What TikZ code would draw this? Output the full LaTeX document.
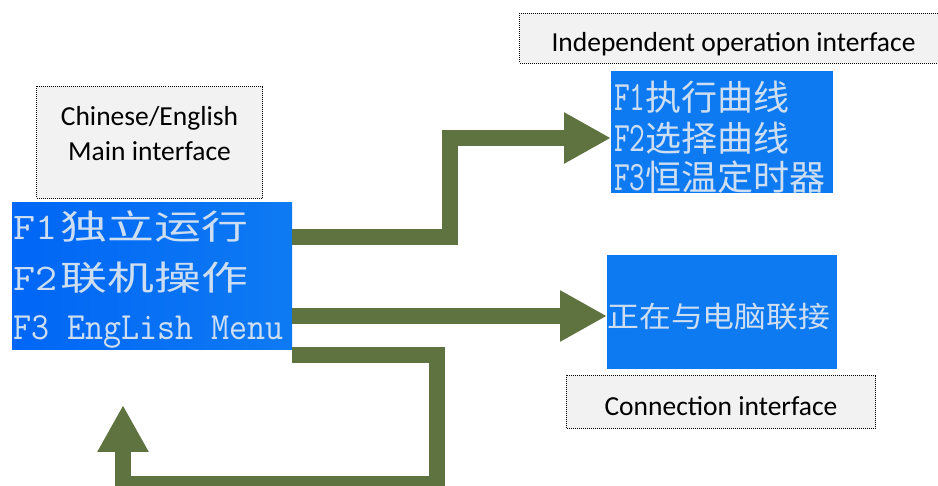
\documentclass[tikz,border=0pt]{standalone}
\usepackage{fontspec}
\usepackage{graphicx}
\setmainfont{Carlito}
\newfontfamily\lcdcjk{Noto Sans CJK SC}
\usetikzlibrary{arrows.meta}
\definecolor{lcdblue}{RGB}{14,122,242}
\definecolor{lcdleft}{RGB}{0,102,246}
\definecolor{lcdtext}{RGB}{205,222,242}
\definecolor{pipegreen}{RGB}{94,115,64}
\definecolor{tagfill}{RGB}{242,242,242}
\newcommand\fkey[3]{\scalebox{#1}[1]{\fontsize{#2}{#2}\ttfamily\selectfont #3}}
\newcommand\hanzi[3]{\scalebox{#1}[1]{\fontsize{#2}{#2}\lcdcjk\selectfont #3}}

\begin{document}
\begin{tikzpicture}[x=1pt,y=-1pt,
  tag/.style={draw,densely dotted,line width=1pt,fill=tagfill,anchor=north west,align=center,font=\fontsize{27.5}{35}\selectfont},
  screen/.style={fill=lcdblue,anchor=north west,inner sep=0pt},
  lcdrow/.style={anchor=base west,inner sep=0pt,text=lcdtext},
  pipe/.style={draw=pipegreen,line width=16pt,-{Triangle[length=47pt,width=48pt]}}]
\useasboundingbox (0,0) rectangle (938,486);

\node[tag,minimum width=226pt,minimum height=112pt,text depth=19pt] (mainlbl) at (36,86) {Chinese/English\\Main interface};
\node[tag,minimum width=428pt,minimum height=50pt,text height=30pt] (indlbl) at (519,13) {Independent operation interface};
\node[tag,minimum width=309pt,minimum height=53pt,text height=28pt] (conlbl) at (566,375) {Connection interface};

\node[screen,left color=lcdleft,right color=lcdblue,minimum width=280pt,minimum height=147pt] (mainscr) at (12,202) {};
\node[screen,minimum width=222pt,minimum height=122pt] (indscr) at (611,71) {};
\node[screen,minimum width=230pt,minimum height=114pt] (conscr) at (607,255) {};

\node[lcdrow] (main1) at (13,240) {\fkey{1.14}{37.6}{F1}\kern3pt\hanzi{1.38}{34}{独立运行}};
\node[lcdrow] (main2) at (13,291) {\fkey{1.14}{37.6}{F2}\kern3pt\hanzi{1.38}{34}{联机操作}};
\node[lcdrow] (main3) at (13,340) {\fkey{.91}{38.5}{F3 EngLish Menu}};
\node[lcdrow] (ind1) at (614,111) {\fkey{.73}{42}{F1}\hanzi{1.03}{35}{执行曲线}};
\node[lcdrow] (ind2) at (614,152) {\fkey{.73}{42}{F2}\hanzi{1.03}{35}{选择曲线}};
\node[lcdrow] (ind3) at (614,191) {\fkey{.73}{42}{F3}\hanzi{1.03}{35}{恒温定时器}};
\node[lcdrow] (con1) at (607,328) {\hanzi{1.1}{29}{正在与电脑联接}};

\coordinate (back) at (123,405);
\draw[pipe] (mainscr.east |- 0,237) -| (450,138) -- (indscr.west |- 0,138);
\draw[pipe] (mainscr.east |- 0,316) -- (conscr.west |- 0,316);
\draw[pipe] (mainscr.east |- 0,355) -| (437,484) -| (back);
\end{tikzpicture}
\end{document}
